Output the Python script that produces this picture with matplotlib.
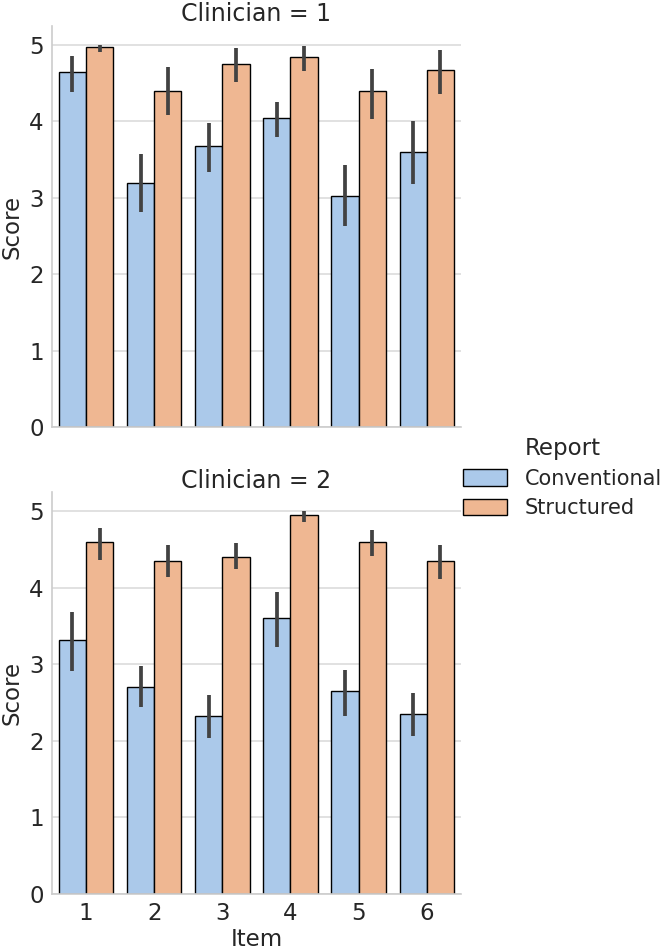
import numpy as np
import matplotlib
matplotlib.use('Agg')
import matplotlib.pyplot as plt
from matplotlib.patches import Patch
import seaborn as sns

# ---- data ----
items = ['1', '2', '3', '4', '5', '6']
reports = ['Conventional', 'Structured']

# Clinician 1
c1_conv = [4.65, 3.20, 3.68, 4.05, 3.02, 3.60]
c1_conv_lo = [4.38, 2.81, 3.34, 3.79, 2.63, 3.18]
c1_conv_hi = [4.86, 3.58, 3.98, 4.26, 3.43, 4.00]
c1_struct = [4.97, 4.40, 4.75, 4.85, 4.40, 4.68]
c1_struct_lo = [4.91, 4.09, 4.52, 4.66, 4.03, 4.36]
c1_struct_hi = [5.00, 4.71, 4.96, 4.99, 4.69, 4.94]

# Clinician 2
c2_conv = [3.32, 2.70, 2.32, 3.60, 2.65, 2.35]
c2_conv_lo = [2.91, 2.44, 2.04, 3.23, 2.33, 2.06]
c2_conv_hi = [3.68, 2.98, 2.60, 3.95, 2.93, 2.63]
c2_struct = [4.60, 4.35, 4.40, 4.95, 4.60, 4.35]
c2_struct_lo = [4.36, 4.14, 4.24, 4.86, 4.41, 4.11]
c2_struct_hi = [4.78, 4.56, 4.58, 5.00, 4.76, 4.56]

sns.set_theme(style='whitegrid')
plt.rcParams['font.family'] = ['DejaVu Sans']

FS = 16.5
pal = sns.color_palette('pastel', 2)
colors = [sns.desaturate(c, 0.75) for c in pal]

fig = plt.figure(figsize=(6.66, 9.51), dpi=100)
ax1 = fig.add_axes([0.078, 0.551, 0.614, 0.4217])
ax2 = fig.add_axes([0.078, 0.060, 0.614, 0.4226])

panels = [
    (ax1, 'Clinician = 1',
     [(c1_conv, c1_conv_lo, c1_conv_hi), (c1_struct, c1_struct_lo, c1_struct_hi)]),
    (ax2, 'Clinician = 2',
     [(c2_conv, c2_conv_lo, c2_conv_hi), (c2_struct, c2_struct_lo, c2_struct_hi)]),
]

x = np.arange(len(items))
w = 0.4
for ax, title, series in panels:
    for k, (vals, lo, hi) in enumerate(series):
        pos = x + (k - 0.5) * w
        ax.bar(pos, vals, width=w, color=colors[k], edgecolor='black',
               linewidth=1.0, zorder=2)
        ax.vlines(pos, lo, hi, color='.26', linewidth=2.7, zorder=3)
    ax.set_xlim(-0.5, len(items) - 0.5)
    ax.set_ylim(0, 5.25)
    ax.set_yticks([0, 1, 2, 3, 4, 5])
    ax.grid(axis='x', visible=False)
    ax.grid(axis='y', color='.85', linewidth=1.1, zorder=0)
    ax.set_axisbelow(True)
    for s in ['top', 'right']:
        ax.spines[s].set_visible(False)
    for s in ['left', 'bottom']:
        ax.spines[s].set_color('.8')
        ax.spines[s].set_linewidth(1.2)
    ax.tick_params(axis='both', labelsize=FS, colors='.15', length=0, pad=6)
    ax.set_ylabel('Score', fontsize=FS, color='.15')
    ax.set_title(title, fontsize=17, color='.15', pad=3)
    ax.set_xticks(x)

ax1.set_xticklabels([])
ax2.set_xticklabels(items)
ax2.set_xlabel('Item', fontsize=FS, color='.15', labelpad=2)

handles = [Patch(facecolor=colors[k], edgecolor='black', linewidth=1.0,
                 label=reports[k]) for k in range(2)]
leg = fig.legend(handles=handles, title='Report', loc='center left',
                 bbox_to_anchor=(0.667, 0.498), frameon=False,
                 fontsize=15, title_fontsize=16.5, handlelength=2.1,
                 handleheight=0.85, handletextpad=0.85, labelspacing=0.45)

fig.savefig('out.png', dpi=100)
